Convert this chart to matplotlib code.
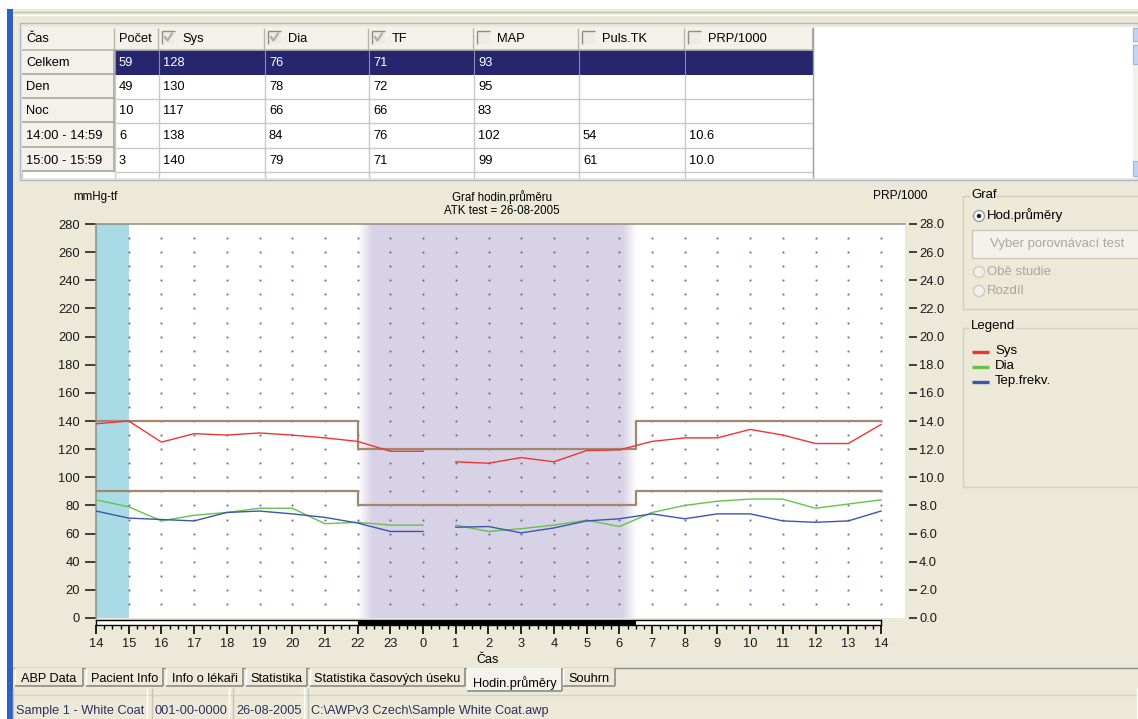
import matplotlib
matplotlib.use("Agg")
import matplotlib.pyplot as plt
import numpy as np
from matplotlib.patches import Rectangle, Circle
from matplotlib.ticker import MultipleLocator, FixedLocator

# ---------------- data ----------------
table_header = ["Čas", "Počet", "Sys", "Dia", "TF", "MAP", "Puls.TK", "PRP/1000"]
header_checked = [None, None, True, True, True, False, False, False]
row_labels = ["Celkem", "Den", "Noc", "14:00 - 14:59", "15:00 - 15:59"]
col_pocet = ["59", "49", "10", "6", "3"]
col_sys = ["128", "130", "117", "138", "140"]
col_dia = ["76", "78", "66", "84", "79"]
col_tf = ["71", "72", "66", "76", "71"]
col_map = ["93", "95", "83", "102", "99"]
col_puls = ["", "", "", "54", "61"]
col_prp = ["", "", "", "10.6", "10.0"]

# hourly averages: evening 14..0, morning 1..14 (no data between 0 and 1)
hours_evening = [14, 15, 16, 17, 18, 19, 20, 21, 22, 23, 24]
hours_morning = [25, 26, 27, 28, 29, 30, 31, 32, 33, 34, 35, 36, 37, 38]
sys_evening = [138, 140, 125, 131, 130, 131.5, 130, 128, 125.5, 118.5, 118.5]
sys_morning = [111, 110, 114, 111, 119, 119.5, 125.5, 128, 128, 134, 130, 124, 124, 137.5]
dia_evening = [84, 79, 69, 73, 75, 78, 78, 67, 68, 66, 66]
dia_morning = [66, 61.5, 63.5, 66, 69.5, 65, 75, 80, 83, 84.5, 84.5, 78, 81, 84]
hr_evening = [76, 71, 70, 69, 75, 76, 74, 71.5, 67.5, 61.5, 61.5]
hr_morning = [64.5, 65, 60.5, 64, 69, 70.5, 74, 70.5, 74, 74, 69, 68, 69, 76]

night_start = 22
night_end = 30.5   # 6:30 next day
day_sys_limit, night_sys_limit = 140, 120
day_dia_limit, night_dia_limit = 90, 80
white_coat_start, white_coat_end = 14, 15

hour_ticks = list(range(14, 39))
hour_labels = [str(h % 24) for h in hour_ticks]
left_ticks = list(range(0, 281, 20))
right_ticks = [v * 2.0 for v in range(0, 15)]

tabs = ["ABP Data", "Pacient Info", "Info o lékaři", "Statistika",
        "Statistika časových úseku", "Hodin.průměry", "Souhrn"]
status_items = ["Sample 1 - White Coat", "001-00-0000", "26-08-2005",
                "C:\\AWPv3 Czech\\Sample White Coat.awp"]
legend_items = ["Sys", "Dia", "Tep.frekv."]

# ---------------- style ----------------
W, H = 1138, 719
BEIGE = "#ece9d8"
C_SYS, C_DIA, C_HR = "#f03434", "#66c24a", "#3a56b0"
C_LIM = "#a5876e"
FONT = "Liberation Sans"
plt.rcParams["font.family"] = [FONT, "DejaVu Sans"]
TS = 9.3    # table font
PS = 9.5    # panel font
TABS = 9.2  # tab font

fig = plt.figure(figsize=(W / 100, H / 100), dpi=100, facecolor=BEIGE)
bg = fig.add_axes([0, 0, 1, 1], zorder=0)
bg.set_xlim(0, W)
bg.set_ylim(H, 0)
bg.axis("off")


def rect(x0, y0, x1, y1, fc="none", ec="none", lw=1.0, z=1):
    bg.add_patch(Rectangle((x0, y0), x1 - x0, y1 - y0, facecolor=fc,
                           edgecolor=ec, lw=lw, zorder=z))


def hline(x0, x1, y, c, lw=1.0, z=2):
    bg.plot([x0, x1], [y, y], color=c, lw=lw, zorder=z, solid_capstyle="butt")


def vline(x, y0, y1, c, lw=1.0, z=2):
    bg.plot([x, x], [y0, y1], color=c, lw=lw, zorder=z, solid_capstyle="butt")


def txt(x, y, s, size=TS, color="black", ha="left", va="center", z=5, **kw):
    bg.text(x, y, s, fontsize=size, color=color, ha=ha, va=va, zorder=z, **kw)


# window chrome
rect(0, 0, W, 9, fc="white", z=1)
rect(0, 0, 7, H, fc="white", z=1)
rect(7, 9, 13, H, fc="#2f5fc4", z=1)
hline(13, W, 12, "#c5c1ad", 1)
hline(13, W, 15, "white", 1)

# ---------------- table ----------------
rect(20, 23, W, 180, fc=BEIGE, ec="#a9b8cf", lw=1, z=1)
rect(22, 27, 1133, 178, fc="white", z=1)
col_x = [22, 115, 159, 265, 369, 474, 579, 685, 813]
row_y = [27, 50, 75, 99, 123, 148, 172, 178]
columns = [row_labels, col_pocet, col_sys, col_dia, col_tf, col_map, col_puls, col_prp]

# header
for i, name in enumerate(table_header):
    x0, x1 = col_x[i], col_x[i + 1]
    rect(x0, 27, x1, 50, fc="#f3f1ea", z=2)
    hline(x0, x1, 49.5, "#b8b6aa", 1.2, z=3)
    vline(x1 - 0.5, 28, 50, "#b8b6aa", 1, z=3)
    tx = x0 + 4
    if header_checked[i] is not None:
        bx = x0 + 3
        rect(bx, 31, bx + 13, 44, fc="#edece4", z=3)
        hline(bx, bx + 13, 31, "#8d8d84", 1, z=4)
        vline(bx, 31, 44, "#8d8d84", 1, z=4)
        if header_checked[i]:
            bg.plot([bx + 3, bx + 5.5, bx + 10], [37, 40.5, 33.5], color="#aeb0a6",
                    lw=1.6, zorder=5)
        tx = bx + 20
    txt(tx, 39, name, color="black")

# body rows
for r in range(5):
    y0, y1 = row_y[r + 1], row_y[r + 2]
    for c in range(8):
        x0, x1 = col_x[c], col_x[c + 1]
        if c == 0:
            rect(x0, y0, x1, y1, fc="#f3f1ea", z=2)
            hline(x0, x1, y1 - 1, "#a9a79c", 1.2, z=3)
            vline(x1 - 1, y0, y1, "#a9a79c", 1.2, z=3)
            color = "black"
        elif r == 0:
            rect(x0, y0, x1, y1, fc="#26266e", z=2)
            vline(x0, y0, y1, "#8a8ab0", 0.8, z=3)
            color = "white"
        else:
            hline(x0, x1, y1, "#c9c9c9", 1, z=3)
            vline(x0, y0, y1, "#c9c9c9", 1, z=3)
            color = "black"
        tx = x0 + 4 if c == 0 else x0 + 4
        txt(tx, (y0 + y1) / 2 + 0.5, columns[c][r], color=color)
# partial row
for c in range(8):
    vline(col_x[c], 172, 178, "#c9c9c9", 1, z=3)
vline(813, 27, 178, "#9c9c9c", 1, z=3)
# scrollbar
rect(1133, 27, W, 178, fc="#f2f2ec", z=2)
rect(1133, 28, W, 41, fc="#c3d3f3", ec="#9fb4e0", lw=0.8, z=3)
rect(1133, 45, W, 64, fc="#c8d6f3", ec="#9fb4e0", lw=0.8, z=3)
rect(1133, 161, W, 176, fc="#c3d3f3", ec="#9fb4e0", lw=0.8, z=3)

# ---------------- chart texts ----------------
txt(95, 197, "mmHg-tf", size=8.3, ha="center")
txt(900, 196, "PRP/1000", size=8.6, ha="center")
txt(502, 197, "Graf hodin.průměru", size=8.3, ha="center")
txt(502, 211, "ATK test = 26-08-2005", size=8.3, ha="center")
txt(488, 660, "Čas", size=9.0, ha="center")

# ---------------- main plot ----------------
PX_PER_H = (881 - 96) / 24.0
x_right = 14 + (905 - 96) / PX_PER_H
ax = fig.add_axes([96 / W, 1 - 618 / H, (905 - 96) / W, (618 - 224) / H], zorder=2)
ax.set_facecolor("white")
ax.set_xlim(14, x_right)
ax.set_ylim(0, 280)

# white-coat period
ax.axvspan(white_coat_start, white_coat_end, color="#a9dbe6", lw=0, zorder=1)
# night period with soft edges
n = 400
xs = np.linspace(night_start, night_end, n)
fade = 0.43
alpha = np.clip(np.minimum((xs - night_start) / fade, (night_end - xs) / fade), 0, 1)
img = np.zeros((1, n, 4))
img[..., 0], img[..., 1], img[..., 2] = 0.85, 0.825, 0.905
img[0, :, 3] = alpha
ax.imshow(img, extent=[night_start, night_end, 0, 280], aspect="auto",
          interpolation="bilinear", zorder=1.5)

# dotted grid
gx, gy = np.meshgrid(np.arange(15, 39), np.arange(10, 280, 10))
ax.plot(gx.ravel(), gy.ravel(), ls="none", marker="s", ms=1.3, mew=0,
        color="#5e5ea0", zorder=2)

# limits
lim_x = [14, night_start, night_end, 38]
ax.step(lim_x, [day_sys_limit, night_sys_limit, day_sys_limit, day_sys_limit],
        where="post", color=C_LIM, lw=1.6, zorder=3)
ax.step(lim_x, [day_dia_limit, night_dia_limit, day_dia_limit, day_dia_limit],
        where="post", color=C_LIM, lw=1.6, zorder=3)

# series
for hx, vals, col in [(hours_evening, sys_evening, C_SYS), (hours_morning, sys_morning, C_SYS),
                      (hours_evening, dia_evening, C_DIA), (hours_morning, dia_morning, C_DIA),
                      (hours_evening, hr_evening, C_HR), (hours_morning, hr_morning, C_HR)]:
    ax.plot(hx, vals, color=col, lw=1.0, zorder=4)

for s in ["right", "bottom"]:
    ax.spines[s].set_visible(False)
for s in ["left", "top"]:
    ax.spines[s].set_color("#968a7a")
    ax.spines[s].set_linewidth(1.1)
ax.set_xticks([])
ax.set_yticks(left_ticks)
ax.tick_params(axis="y", length=8, width=1.2, pad=3.6, labelsize=9.3,
               color="#222222", labelcolor="#1a1a1a")

# right axis (PRP/1000)
axr = fig.add_axes([905 / W, 1 - 618 / H, 4 / W, (618 - 224) / H], zorder=2)
axr.patch.set_visible(False)
for s in axr.spines.values():
    s.set_visible(False)
axr.set_ylim(0, 28)
axr.set_xticks([])
axr.yaxis.tick_right()
axr.set_yticks(right_ticks)
axr.set_yticklabels([f"{v:.1f}" for v in right_ticks])
axr.tick_params(axis="y", direction="out", length=6, width=1.2, pad=1.2, labelsize=9.3,
                color="#222222", labelcolor="#1a1a1a")

# time bar with hour ticks
axb = fig.add_axes([96 / W, 1 - 624.5 / H, 785 / W, 4.5 / H], zorder=3)
axb.set_xlim(14, 38)
axb.set_ylim(0, 1)
axb.set_facecolor("white")
axb.axvspan(night_start, night_end, color="black", lw=0)
for s in axb.spines.values():
    s.set_color("black")
    s.set_linewidth(1.0)
axb.set_yticks([])
axb.xaxis.set_major_locator(FixedLocator(hour_ticks))
axb.set_xticklabels(hour_labels)
axb.xaxis.set_minor_locator(MultipleLocator(0.25))
axb.tick_params(axis="x", which="major", length=6.5, width=1.2, pad=3.2, labelsize=9.3,
                color="black", labelcolor="#1a1a1a")
axb.tick_params(axis="x", which="minor", length=3, width=1.0, color="black")

# ---------------- right panel ----------------
# Graf group
rect(963.5, 195.5, W + 5, 308.5, ec="#d0d0bf", lw=1, z=2)
txt(971, 195, "Graf", size=PS, z=6, bbox=dict(fc=BEIGE, ec="none", pad=0.6))
bg.add_patch(Circle((979, 216), 5.5, fc="white", ec="#9a9a9a", lw=1, zorder=4))
bg.add_patch(Circle((979, 216), 2.2, fc="#222222", ec="none", zorder=5))
txt(987, 215, "Hod.průměry", size=PS)
rect(972, 230, W + 5, 258, fc="#f3f2ec", ec="#cbc8b8", lw=1, z=3)
txt(1057, 244, "Vyber porovnávací test", size=PS, color="#aca899", ha="center")
for yy, lab in [(272, "Obě studie"), (291, "Rozdíl")]:
    bg.add_patch(Circle((979, yy), 5.5, fc="#f1f0ea", ec="#cfcdc2", lw=1, zorder=4))
    txt(987, yy, lab, size=PS, color="#aca899")

# Legend group
rect(963.5, 327.5, W + 5, 486.5, ec="#d0d0bf", lw=1, z=2)
txt(971, 326, "Legend", size=PS, z=6, bbox=dict(fc=BEIGE, ec="none", pad=0.6))
for yy, lab, col in zip([352, 367, 382], legend_items, [C_SYS, C_DIA, C_HR]):
    hline(972, 989, yy, col, 2.4, z=4)
    txt(995, yy - 1, lab, size=PS)

# ---------------- tabs ----------------
tab_x = [(15, 83), (86, 163), (166, 243), (246, 307), (310, 465), (467, 562), (563, 615)]
hline(13, 467, 668, "#8c8c86", 1, z=2)
hline(562, W, 668, "#8c8c86", 1, z=2)
for (x0, x1), lab in zip(tab_x, tabs):
    if lab == "Hodin.průměry":
        rect(x0, 668, x1, 691, fc="#f4f3ee", z=3)
        vline(x0, 668, 691, "white", 1, z=4)
        vline(x1, 668, 691, "#8c8c86", 1.2, z=4)
        hline(x0, x1, 691, "#8c8c86", 1.2, z=4)
        txt((x0 + x1) / 2, 683, lab, size=TABS, ha="center")
    else:
        rect(x0, 668, x1, 686, fc=BEIGE, z=3)
        vline(x0, 668, 686, "white", 1, z=4)
        vline(x1, 668, 686, "#8c8c86", 1.2, z=4)
        hline(x0, x1, 686, "#8c8c86", 1.2, z=4)
        txt((x0 + x1) / 2, 679, lab, size=TABS, ha="center")

# ---------------- status bar ----------------
hline(13, W, 695, "#d6d2c2", 1, z=2)
status_x = [(13, 148), (152, 230), (233, 305), (308, W)]
for (x0, x1), lab in zip(status_x, status_items):
    vline(x0 + 0.5, 688, H, "#c9c5b3", 1, z=3)
    vline(x1 - 0.5, 688, H, "white", 1, z=3)
    txt(x0 + 3, 711, lab, size=9.2, color="#2e3160")

fig.savefig("out.png", dpi=100, facecolor=BEIGE)
